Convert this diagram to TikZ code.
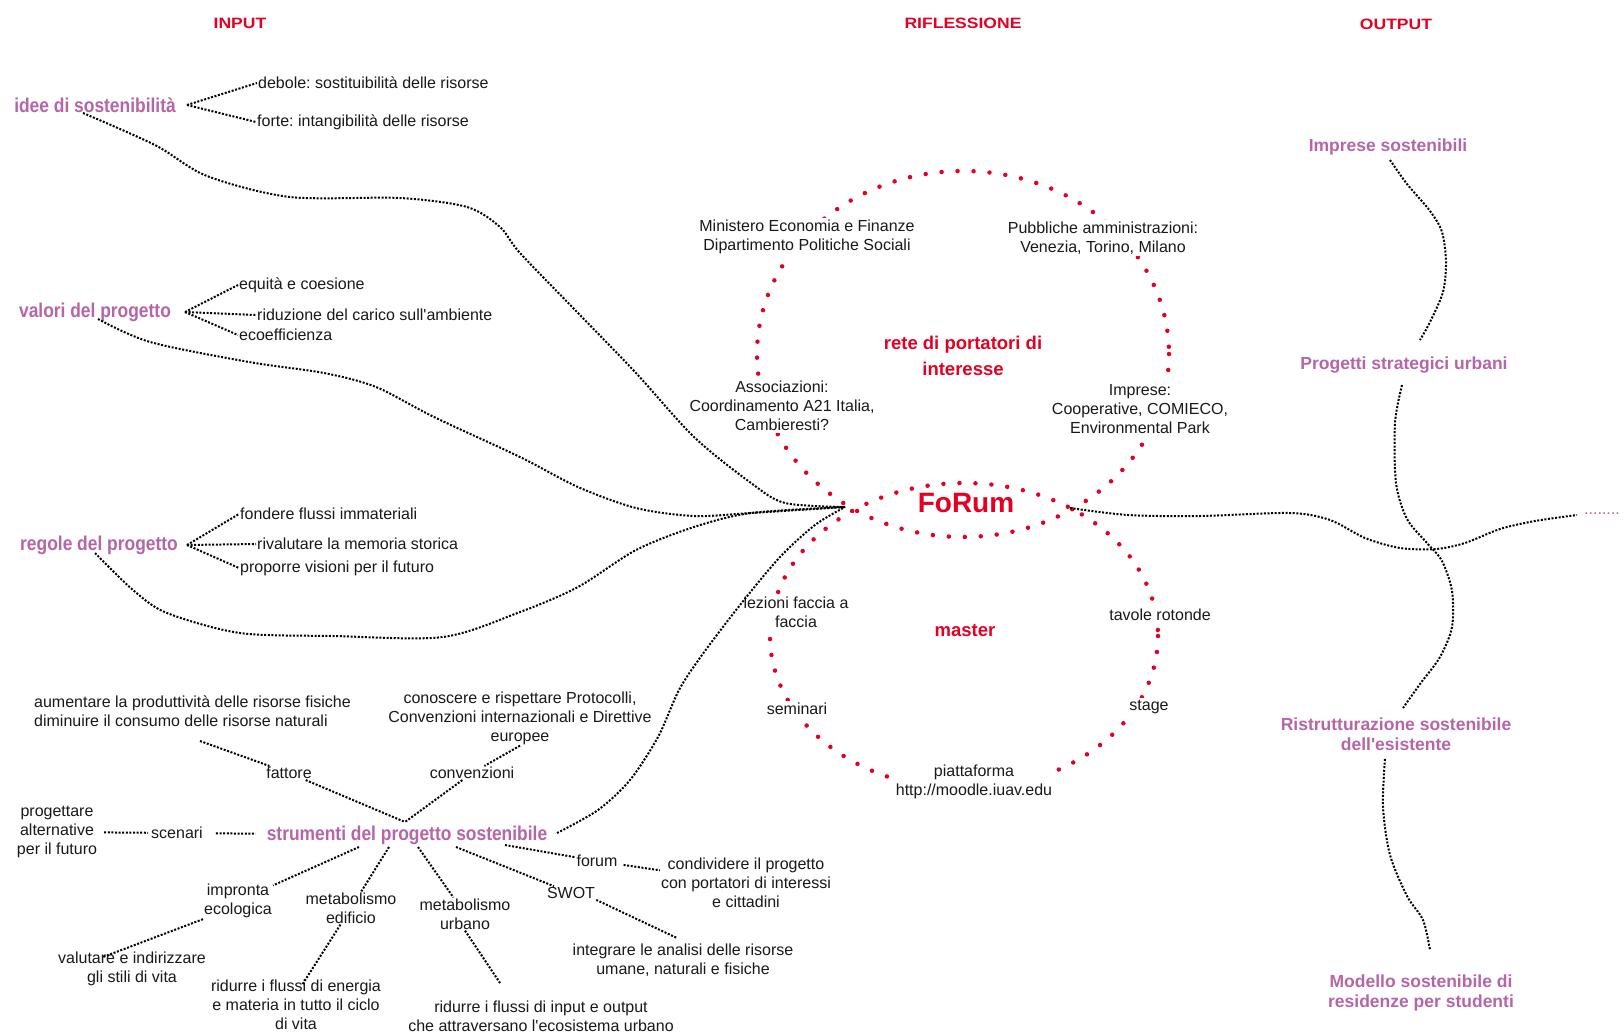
\documentclass[tikz,border=0pt]{standalone}
\usepackage{fontspec}
\setmainfont{Liberation Sans}
\newfontfamily\purplefont[FakeStretch=0.87]{Liberation Sans}
\newfontfamily\headfont[FakeStretch=1.17]{Liberation Sans}
\definecolor{pur}{RGB}{181,101,168}
\definecolor{rd}{RGB}{228,0,35}
\definecolor{txc}{RGB}{25,25,25}
\newcommand{\apo}{\textquotesingle}
\tikzset{
  txt/.style={font=\fontsize{16}{19}\selectfont, text=txc, align=center, inner sep=1pt},
  wtxt/.style={txt, fill=white, inner sep=2pt},
  plab/.style={font=\purplefont\bfseries\fontsize{20}{22}\selectfont, text=pur, inner sep=1pt},
  olab/.style={font=\bfseries\fontsize{17.5}{20.5}\selectfont, text=pur, align=center, inner sep=1pt},
  head/.style={font=\headfont\bfseries\fontsize{15}{18}\selectfont, text=rd},
  redlab/.style={font=\bfseries\fontsize{18.5}{26.5}\selectfont, text=rd, align=center},
  bdot/.style={line width=2pt, line cap=butt, dash pattern=on 2pt off 1.6pt, black},
  rdot/.style={line width=4.5pt, line cap=round, dash pattern=on 0pt off 16pt, rd},
}
\begin{document}
\frenchspacing
\begin{tikzpicture}[x=1pt,y=-1pt]
\useasboundingbox (0,0) rectangle (1624,1034);
\fill[white] (0,0) rectangle (1624,1034);

% red dotted ellipses (their overlap forms the FoRum lens)
\draw[rdot] (963,354) ellipse [x radius=206, y radius=183];
\draw[rdot] (964,636) ellipse [x radius=194, y radius=153];

% headers
\node[head] (hin) at (240,23) {INPUT};
\node[head] (hrif) at (963,23) {RIFLESSIONE};
\node[head] (hout) at (1396,24) {OUTPUT};

% left: input
\node[plab] (idee) at (95,105) {idee di sostenibilità};
\node[txt, anchor=west] (deb) at (257,83) {debole: sostituibilità delle risorse};
\node[txt, anchor=west] (forte) at (256,122) {forte: intangibilità delle risorse};
\node[plab] (valori) at (95,312) {valori del progetto};
\node[txt, anchor=west] (equita) at (238,285) {equità e coesione};
\node[txt, anchor=west] (riduz) at (256,315) {riduzione del carico sull\apo ambiente};
\node[txt, anchor=west] (ecoeff) at (238,335) {ecoefficienza};
\node[plab] (regole) at (99,545) {regole del progetto};
\node[txt, anchor=west] (fondere) at (239,514) {fondere flussi immateriali};
\node[txt, anchor=west] (rival) at (256,544) {rivalutare la memoria storica};
\node[txt, anchor=west] (proporre) at (239,568) {proporre visioni per il futuro};

% centre: riflessione
\node[wtxt] (minis) at (807,237) {Ministero Economia e Finanze\\Dipartimento Politiche Sociali};
\node[wtxt] (pubb) at (1103,238) {Pubbliche amministrazioni:\\Venezia, Torino, Milano};
\node[redlab] (rete) at (963,356) {rete di portatori di\\interesse};
\node[wtxt] (assoc) at (782,406) {Associazioni:\\Coordinamento A21 Italia,\\Cambieresti?};
\node[wtxt] (impre) at (1140,409) {Imprese:\\Cooperative, COMIECO,\\Environmental Park};
\node[font=\bfseries\fontsize{28}{30}\selectfont, text=rd] (forum) at (966,503) {FoRum};
\node[font=\bfseries\fontsize{18.5}{22}\selectfont, text=rd] (master) at (965,631) {master};
\node[wtxt] (lezioni) at (796,612) {lezioni faccia a\\faccia};
\node[wtxt] (tavole) at (1160,615) {tavole rotonde};
\node[wtxt] (seminari) at (797,709) {seminari};
\node[wtxt] (stage) at (1149,707) {stage};
\node[wtxt] (piatt) at (974,782) {piattaforma\\http://moodle.iuav.edu};

% right: output
\node[olab] (impS) at (1388,147) {Imprese sostenibili};
\node[olab] (progS) at (1404,365) {Progetti strategici urbani};
\node[olab] (ristr) at (1396,734) {Ristrutturazione sostenibile\\dell\apo esistente};
\node[olab] (modello) at (1421,993) {Modello sostenibile di\\residenze per studenti};
\node[font=\fontsize{16}{19}\selectfont, text=pur, anchor=base west, inner sep=0pt] (dots) at (1584,514.5) {........};

% bottom: strumenti
\node[txt, align=left, anchor=west] (aum) at (33,711.5) {aumentare la produttività delle risorse fisiche\\diminuire il consumo delle risorse naturali};
\node[txt] (conosc) at (520,718) {conoscere e rispettare Protocolli,\\Convenzioni internazionali e Direttive\\europee};
\node[txt] (fattore) at (289,773) {fattore};
\node[txt] (conv) at (472,773) {convenzioni};
\node[txt] (prog3) at (57,832) {progettare\\alternative\\per il futuro};
\node[txt] (scen) at (177,833) {scenari};
\node[plab] (strum) at (407,835) {strumenti del progetto sostenibile};
\node[txt] (impr) at (238,901) {impronta\\ecologica};
\node[txt] (valut) at (132,969) {valutare e indirizzare\\gli stili di vita};
\node[txt] (metE) at (351,908) {metabolismo\\edificio};
\node[txt] (ridE) at (296,1005) {ridurre i flussi di energia\\e materia in tutto il ciclo\\di vita};
\node[txt] (metU) at (465,914) {metabolismo\\urbano};
\node[txt] (ridU) at (541,1016) {ridurre i flussi di input e output\\che attraversano l\apo ecosistema urbano};
\node[txt] (swot) at (571,893) {SWOT};
\node[txt] (integ) at (683,960) {integrare le analisi delle risorse\\umane, naturali e fisiche};
\node[txt] (forumB) at (597,861) {forum};
\node[txt] (condiv) at (746,883) {condividere il progetto\\con portatori di interessi\\e cittadini};

% coordinates for connector ends
\coordinate (hub) at (845,507);
\coordinate (ideeS) at (83,113);
\coordinate (valS) at (98,319);
\coordinate (regS) at (95,553);
\coordinate (strE) at (557,833);
\coordinate (forR) at (1070,508);
\coordinate (dotsW) at (1577,515);
\coordinate (impB) at (1390,160);
\coordinate (progT) at (1420,340);
\coordinate (progB) at (1402,385);
\coordinate (ristT) at (1403,708);
\coordinate (ristB) at (1385,759);
\coordinate (modT) at (1430,950);
\coordinate (ideeB) at (187,105);
\coordinate (valB) at (185,312);
\coordinate (regB) at (187,545);
\coordinate (sV) at (405,822);
\coordinate (aumE) at (200,741);
\coordinate (s1) at (359,847);
\coordinate (s2) at (389,847);
\coordinate (s3) at (418,847);
\coordinate (s4) at (456,847);
\coordinate (s5) at (505,845);
\coordinate (valE) at (103,957);
\coordinate (ridEt) at (302,985);
\coordinate (ridUt) at (500,983);
\coordinate (integT) at (677,938);

% main curves to the forum hub
\draw[bdot] plot[smooth, tension=0.5] coordinates {(ideeS) (155,145) (207,176) (290,197) (400,198) (467,207) (500,227) (520,253) (578,313) (636,373) (694,437) (751,483) (785,503) (hub)};
\draw[bdot] plot[smooth, tension=0.5] coordinates {(valS) (150,342) (249,362) (324,373) (376,387) (434,417) (520,457) (578,487) (636,508) (694,516) (751,513) (hub)};
\draw[bdot] plot[smooth, tension=0.5] coordinates {(regS) (133,590) (167,613) (240,633) (333,636) (443,637) (520,612) (578,587) (636,550) (694,527) (751,513) (hub)};
\draw[bdot] plot[smooth, tension=0.5] coordinates {(strE) (598,810) (630,780) (658,737) (679,690) (702,655) (740,605) (780,557) (815,525) (hub)};
\draw[bdot] plot[smooth, tension=0.5] coordinates {(forR) (1128,515) (1200,516) (1290,513) (1330,520) (1365,538) (1400,548) (1436,549) (1465,543) (1500,529) (1535,521) (dotsW)};

% output chain
\draw[bdot] plot[smooth, tension=0.5] coordinates {(impB) (1407,184) (1430,211) (1442,232) (1446,262) (1443,292) (1430,322) (progT)};
\draw[bdot] plot[smooth, tension=0.5] coordinates {(progB) (1395,423) (1396,483) (1407,519) (1427,543) (1442,561) (1452,591) (1452,627) (1440,657) (1420,684) (ristT)};
\draw[bdot] plot[smooth, tension=0.5] coordinates {(ristB) (1383,807) (1390,855) (1407,896) (1423,920) (modT)};

% branches
\draw[bdot] (ideeB) -- (deb.west);
\draw[bdot] (ideeB) -- (forte.west);
\draw[bdot] (valB) -- (equita.west);
\draw[bdot] (valB) -- (riduz.west);
\draw[bdot] (valB) -- (ecoeff.west);
\draw[bdot] (regB) -- (fondere.west);
\draw[bdot] (regB) -- (rival.west);
\draw[bdot] (regB) -- (proporre.west);

% strumenti star
\draw[bdot] (aumE) -- (fattore);
\draw[bdot] (fattore) -- (sV);
\draw[bdot] (conosc.south) -- (conv);
\draw[bdot] (conv) -- (sV);
\draw[bdot, shorten <=6pt, shorten >=2pt] (prog3) -- (scen);
\draw[bdot, shorten <=12pt, shorten >=10pt] (scen) -- (strum);
\draw[bdot] (s1) -- (impr);
\draw[bdot] (impr.south west) -- (valE);
\draw[bdot] (s2) -- (metE);
\draw[bdot] (metE) -- (ridEt);
\draw[bdot] (s3) -- (metU);
\draw[bdot] (metU.south) -- (ridUt);
\draw[bdot] (s4) -- (swot);
\draw[bdot] (swot.south east) -- (integT);
\draw[bdot] (s5) -- (forumB);
\draw[bdot, shorten <=5pt] (forumB) -- (condiv);
\end{tikzpicture}
\end{document}
